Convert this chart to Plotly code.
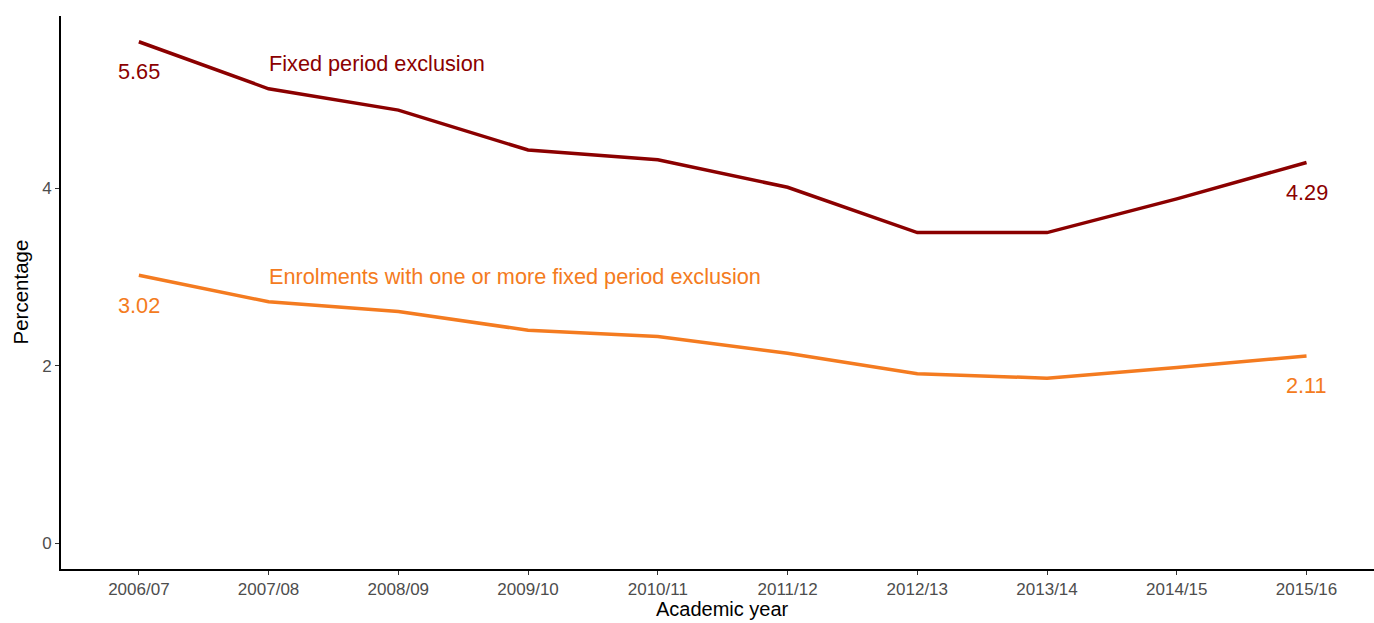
import plotly.graph_objects as go

years = ["2006/07", "2007/08", "2008/09", "2009/10", "2010/11",
         "2011/12", "2012/13", "2013/14", "2014/15", "2015/16"]
fixed_period = [5.65, 5.12, 4.88, 4.43, 4.32, 4.01, 3.50, 3.50, 3.88, 4.29]
enrolments = [3.02, 2.72, 2.61, 2.40, 2.33, 2.14, 1.91, 1.86, 1.98, 2.11]

DARK = "#8B0000"
ORANGE = "#F47B20"
FONT = "Liberation Sans, Arial, sans-serif"
LBL = 21.7

idx = list(range(len(years)))

fig = go.Figure()
fig.add_trace(go.Scatter(x=idx, y=fixed_period, mode="lines",
                         line=dict(color=DARK, width=3.5), hoverinfo="skip"))
fig.add_trace(go.Scatter(x=idx, y=enrolments, mode="lines",
                         line=dict(color=ORANGE, width=3.5), hoverinfo="skip"))

ann = []
for series, col in [(fixed_period, DARK), (enrolments, ORANGE)]:
    for i in (0, len(years) - 1):
        ann.append(dict(x=i, y=series[i], xref="x", yref="y", text=f"{series[i]:.2f}",
                        showarrow=False, yshift=-30, xanchor="center", yanchor="middle",
                        font=dict(family=FONT, size=LBL, color=col)))
ann.append(dict(x=1, y=5.40, xref="x", yref="y", text="Fixed period exclusion",
                showarrow=False, xanchor="left", yanchor="middle", xshift=-2,
                font=dict(family=FONT, size=LBL, color=DARK)))
ann.append(dict(x=1, y=3.0, xref="x", yref="y",
                text="Enrolments with one or more fixed period exclusion",
                showarrow=False, xanchor="left", yanchor="middle", xshift=-2,
                font=dict(family=FONT, size=LBL, color=ORANGE)))
ann.append(dict(x=4.5, y=0, xref="x", yref="paper", text="Academic year",
                showarrow=False, xanchor="center", yanchor="top", yshift=-28,
                borderpad=0,
                font=dict(family=FONT, size=20, color="black")))
ann.append(dict(x=0, y=0.5, xref="paper", yref="paper", text="Percentage",
                showarrow=False, xanchor="center", yanchor="middle", xshift=-41,
                textangle=-90, font=dict(family=FONT, size=20.5, color="black")))

fig.update_layout(
    width=1374, height=623,
    margin=dict(l=61, r=0, t=16, b=54),
    paper_bgcolor="white", plot_bgcolor="white",
    showlegend=False,
    annotations=ann,
    xaxis=dict(
        range=[-0.6, 9.52], tickmode="array", tickvals=idx, ticktext=years,
        showgrid=False, zeroline=False, showline=True, linecolor="black", linewidth=2,
        ticks="outside", ticklen=4, tickwidth=1, tickcolor="#333333",
        tickfont=dict(family=FONT, size=17, color="#4D4D4D"),
    ),
    yaxis=dict(
        range=[-0.29, 5.94], tickvals=[0, 2, 4],
        showgrid=False, zeroline=False, showline=True, linecolor="black", linewidth=2,
        ticks="outside", ticklen=4, tickwidth=1, tickcolor="#333333",
        tickfont=dict(family=FONT, size=17, color="#4D4D4D"),
    ),
)

fig.write_html("out.html", config={"displayModeBar": False},
               post_script="document.body.style.margin='0px';document.body.style.overflow='hidden';")
